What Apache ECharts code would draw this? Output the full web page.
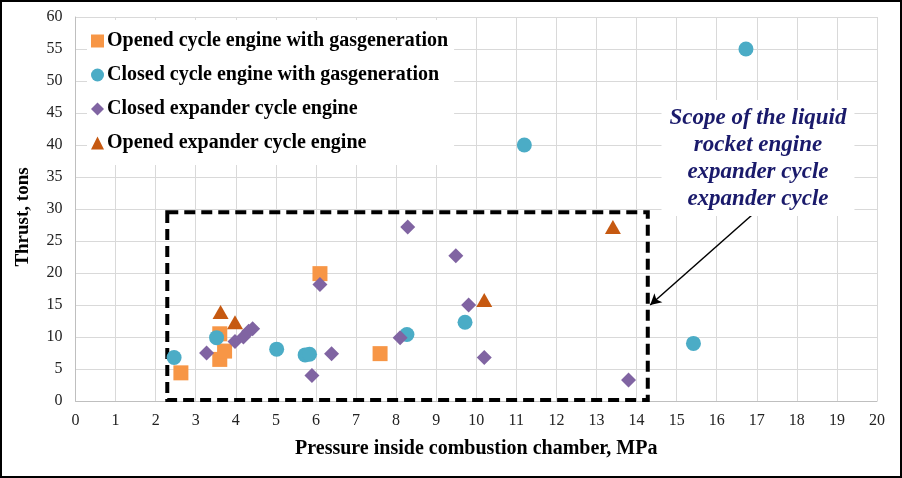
<!DOCTYPE html>
<html>
<head>
<meta charset="utf-8">
<script src="https://cdn.jsdelivr.net/npm/echarts@6/dist/echarts.min.js"></script>
<style>
html,body{margin:0;padding:0;background:#fff;}
#wrap{position:relative;width:902px;height:478px;}
#chart{position:absolute;left:0;top:0;width:902px;height:478px;}
#frame{position:absolute;left:0;top:0;width:902px;height:478px;box-sizing:border-box;border:2px solid #000;pointer-events:none;}
</style>
</head>
<body>
<div id="wrap"><div id="chart"></div><div id="frame"></div></div>
<script>
// ---- data ----
const seriesNames = [
  'Opened cycle engine with gasgeneration',
  'Closed cycle engine with gasgeneration',
  'Closed expander cycle engine',
  'Opened expander cycle engine'
];
const openedGG = [[2.63,4.4],[3.6,10.5],[3.6,6.5],[3.72,7.8],[6.1,19.9],[7.6,7.4]];
const closedGG = [[2.46,6.8],[3.52,9.9],[5.02,8.1],[5.73,7.2],[5.84,7.3],[8.27,10.4],[9.72,12.3],[11.2,40],[15.42,9],[16.73,55]];
const closedExp = [[3.27,7.5],[3.98,9.3],[4.19,10],[4.32,10.9],[4.42,11.3],[5.9,4],[6.1,18.2],[6.39,7.4],[8.1,9.9],[8.29,27.2],[9.49,22.7],[9.81,15],[10.2,6.8],[13.8,3.3]];
const openedExp = [[3.62,13.9],[3.98,12.3],[10.2,15.8],[13.41,27.2]];
const scopeBox = [[2.29,29.5],[14.28,0.15]];
const arrowLine = [[17.05,30],[14.34,15]];
const noteAnchor = [17.03,37.95];
const noteLines = ['Scope of the liquid','rocket engine','expander cycle','expander cycle'];
const xName = 'Pressure inside combustion chamber, MPa';
const yName = 'Thrust, tons';

const serif = 'Liberation Serif';
const chart = echarts.init(document.getElementById('chart'));
const option = {
  animation:false,
  backgroundColor:'#fff',
  grid:{left:75.5,right:25,top:17,bottom:77},
  legend:{
    data:[
      {name:seriesNames[0],icon:'rect'},
      {name:seriesNames[1],icon:'circle'},
      {name:seriesNames[2],icon:'diamond'},
      {name:seriesNames[3],icon:'triangle'}
    ],
    orient:'vertical',left:87,top:20,
    backgroundColor:'#fff',
    padding:[11,6,12,4],
    itemGap:14,itemWidth:13,itemHeight:13,
    textStyle:{fontFamily:serif,fontWeight:'bold',fontSize:20,color:'#000',padding:[0,0,0,-2]}
  },
  xAxis:{
    type:'value',min:0,max:20,interval:1,
    name:xName,nameLocation:'middle',nameGap:38,
    nameTextStyle:{fontFamily:serif,fontWeight:'bold',fontSize:20,color:'#000'},
    axisLine:{show:true,lineStyle:{color:'#bfbfbf'}},
    axisTick:{show:false},
    axisLabel:{fontFamily:serif,fontSize:16,color:'#222',margin:12},
    splitLine:{show:true,lineStyle:{color:'#d9d9d9',width:1}}
  },
  yAxis:{
    type:'value',min:0,max:60,interval:5,
    name:yName,nameLocation:'middle',nameGap:43,
    nameTextStyle:{fontFamily:serif,fontWeight:'bold',fontSize:19,color:'#000',padding:[0,16,0,0]},
    axisLine:{show:true,lineStyle:{color:'#bfbfbf'}},
    axisTick:{show:false},
    axisLabel:{fontFamily:serif,fontSize:16,color:'#222',margin:13},
    splitLine:{show:true,lineStyle:{color:'#d9d9d9',width:1}}
  },
  series:[
    {name:seriesNames[0],type:'scatter',symbol:'rect',symbolSize:15,data:openedGG,itemStyle:{color:'#F79646',opacity:1},z:3},
    {name:seriesNames[1],type:'scatter',symbol:'circle',symbolSize:15,data:closedGG,itemStyle:{color:'#4BACC6',opacity:1},z:4},
    {name:seriesNames[2],type:'scatter',symbol:'diamond',symbolSize:15,data:closedExp,itemStyle:{color:'#8064A2',opacity:1},z:5},
    {name:seriesNames[3],type:'scatter',symbol:'triangle',symbolSize:[16,14],data:openedExp,itemStyle:{color:'#C65911',opacity:1},z:6},
    {
      name:'scope',type:'scatter',data:[],z:7,silent:true,
      markArea:{
        silent:true,
        itemStyle:{color:'rgba(0,0,0,0)',borderColor:'#000',borderWidth:4,borderType:[11,6]},
        data:[[{coord:scopeBox[0]},{coord:scopeBox[1]}]]
      },
      markLine:{
        silent:true,animation:false,
        symbol:['none','arrow'],symbolSize:[9,11],
        label:{show:false},
        lineStyle:{color:'#000',width:1.5,type:'solid'},
        data:[[{coord:arrowLine[0]},{coord:arrowLine[1]}]]
      }
    }
  ]
};
chart.setOption(option);
const p = chart.convertToPixel({gridIndex:0}, noteAnchor);
chart.setOption({
  graphic:[{
    type:'text',x:p[0],y:p[1],z:100,
    style:{
      text:noteLines.join('\n'),
      fontFamily:serif,fontStyle:'italic',fontWeight:'bold',fontSize:23,lineHeight:27,
      fill:'#1a1a6b',align:'center',verticalAlign:'middle',
      backgroundColor:'#fff',padding:[4,8,4,8]
    }
  }]
});
</script>
</body>
</html>
